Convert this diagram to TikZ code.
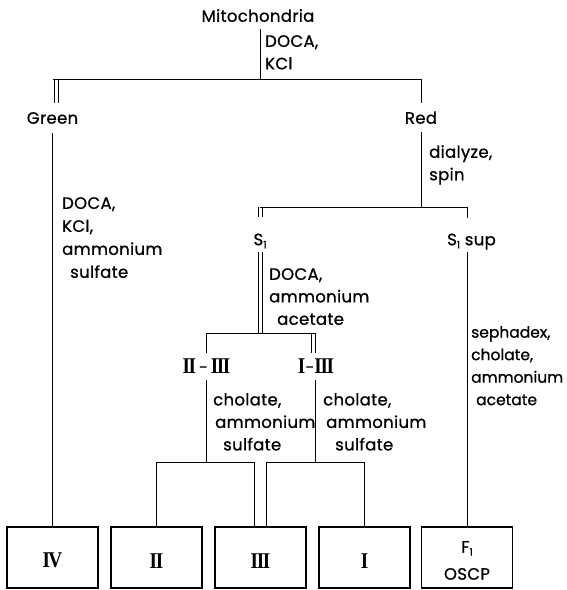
\documentclass[tikz,border=0pt]{standalone}
\usepackage{fontspec}
\usepackage{graphicx}
\setmainfont{Poppins}[LetterSpace=2, FakeBold=0.8]
\newfontfamily\rnfont{Liberation Serif}
\newcommand\rnsize{\rnfont\bfseries\fontsize{22.5}{22.5}\selectfont}
\newcommand\RNi{\scalebox{0.85}[1]{\rnsize I}}
\newcommand\RNii{\scalebox{0.85}[1]{\rnsize I\kern-1.6pt I}}
\newcommand\RNiii{\scalebox{0.85}[1]{\rnsize I\kern-1.6pt I\kern-1.6pt I}}
\newcommand\RNiv{\scalebox{0.85}[1]{\rnsize I\kern-2pt V}}
\newcommand\subone{\raisebox{-3pt}{\fontsize{10}{10}\selectfont 1}}
\tikzset{
  ln/.style={line width=1pt},
  dbl/.style={double, double distance=3pt, line width=1pt},
  stage/.style={inner sep=0pt, text height=11.5pt, text depth=0pt, font=\fontsize{16.5}{16.5}\selectfont},
  note/.style={inner sep=0pt, anchor=north west, align=left, font=\fontsize{16.5}{22.5}\selectfont},
  rnlabel/.style={inner sep=0pt, text height=15pt, text depth=0pt, font=\fontsize{16.5}{16.5}\selectfont},
  fraction/.style={draw, line width=1.2pt, minimum width=91pt, minimum height=61pt, inner sep=0pt, font=\fontsize{16.5}{27}\selectfont}
}
\begin{document}
\begin{tikzpicture}[x=1pt,y=-1pt]
\useasboundingbox (0,0) rectangle (566,590);
\fill[white] (0,0) rectangle (566,590);

% stage nodes
\node[stage] (mito) at (258,16) {Mitochondria};
\node[stage] (green) at (52.5,118) {Green};
\node[stage] (red) at (421,118) {Red};
\node[stage] (s1) at (260,239.5) {S\subone};
\node[stage, anchor=west] (s1sup) at (447,239.5) {S\subone\ sup};
\node[rnlabel] (g23) at (206.5,365.5) {\RNii\,-\,\RNiii};
\node[rnlabel] (g13) at (316,365.5) {\RNi-\RNiii};

% final fractions
\node[fraction] (b4) at (52.5,557.5) {\rule{0pt}{21pt}\RNiv};
\node[fraction] (b2) at (156.5,557.5) {\rule{0pt}{21pt}\RNii};
\node[fraction] (b3) at (260.5,557.5) {\rule{0pt}{21pt}\RNiii};
\node[fraction] (b1) at (364.5,557.5) {\rule{0pt}{21pt}\RNi};
\node[fraction, align=center] (bF) at (467,557.5) {\rule{0pt}{17.5pt}F\subone\\OSCP};

% treatment notes
\node[note] (n1) at (265,35) {DOCA,\\KCl};
\node[note] (n2) at (429,145) {dialyze,\\spin};
\node[note, font=\fontsize{16.5}{23}\selectfont] (n3) at (62,197) {DOCA,\\KCl,\\ammonium\\\hspace*{8pt}sulfate};
\node[note] (n4) at (269,268) {DOCA,\\ammonium\\\hspace*{8pt}acetate};
\node[note, font=\fontsize{15.5}{22.5}\selectfont\addfontfeature{LetterSpace=0}] (n5) at (471,326) {sephadex,\\cholate,\\ammonium\\\hspace*{5pt}acetate};
\node[note] (n6) at (213,393) {cholate,\\\hspace*{2pt}ammonium\\\hspace*{10pt}sulfate};
\node[note] (n7) at (323,393) {cholate,\\\hspace*{3pt}ammonium\\\hspace*{12pt}sulfate};

% junctions
\coordinate (jTop) at (260,79);
\coordinate (jRed) at (421,207);
\coordinate (jSup) at (467,207);
\coordinate (jS1) at (260,333);
\coordinate (jL) at (206.5,462);
\coordinate (jR) at (315,462);

% double lines first
\draw[dbl, shorten >=9pt] ([xshift=3.6pt]green.north |- jTop) -- ([xshift=3.6pt]green.north);
\draw[dbl, shorten >=16.5pt] (s1.north |- jRed) -- (s1.north);
\draw[dbl, shorten <=7pt] (s1.south) -- (jS1);
\draw[dbl, shorten >=5pt] ([xshift=-2.5pt]g13.north |- jS1) -- ([xshift=-2.5pt]g13.north);

% single lines
\draw[ln, shorten <=7pt] (mito.south -| jTop) -- (jTop);
\draw[ln, shorten >=9pt] (green.north |- jTop) -| (red.north);
\draw[ln, shorten <=9pt] (green.south) -- (b4.north);
\draw[ln, shorten <=8.5pt] (red.south) -- (jRed);
\draw[ln, shorten >=15.5pt] (s1.north |- jRed) -- (jSup) -- (jSup |- s1sup.north);
\draw[ln, shorten <=7pt] (jSup |- s1sup.south) -- (bF.north);
\draw[ln, shorten <=5pt] (g23.north) |- ([xshift=-1pt]g13.north |- jS1);
\draw[ln, shorten <=7pt] (g23.south) -- (jL);
\draw[ln, shorten <=7pt] ([xshift=-1pt]g13.south) -- (jR);
\draw[ln] (b2.north) |- ([xshift=-6pt]b3.north |- jL) -- ([xshift=-6pt]b3.north);
\draw[ln] ([xshift=6pt]b3.north) |- (b1.north |- jR) -- (b1.north);
\end{tikzpicture}
\end{document}
